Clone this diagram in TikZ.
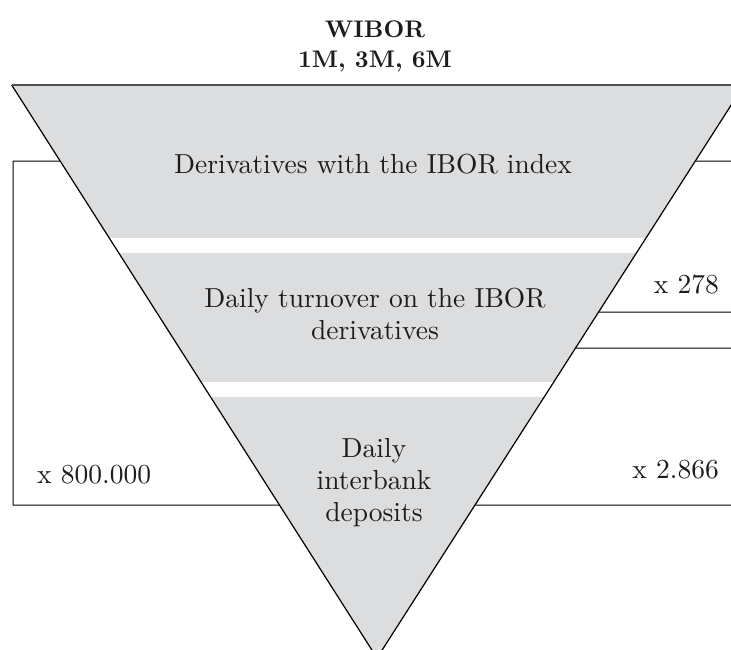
\documentclass[tikz,border=0pt]{standalone}
\usepackage{fontspec}
\newfontfamily\bodyfont{lmroman10-regular.otf}
\newfontfamily\boldfont{lmroman10-bold.otf}
\definecolor{bandgray}{RGB}{220,221,223}
\definecolor{inkc}{RGB}{28,28,28}
\definecolor{topc}{RGB}{80,80,80}
\begin{document}
\begin{tikzpicture}[x=1pt,y=-1pt,
  body/.style={font=\bodyfont\fontsize{27.5}{32}\selectfont, text=inkc, inner sep=0pt},
  ttlstyle/.style={font=\boldfont\fontsize{24}{30}\selectfont, text=inkc, inner sep=0pt, align=center, anchor=north},
  sideline/.style={draw=black, line width=1.2pt},
  topedge/.style={draw=topc, line width=1.6pt},
  link/.style={draw=black, line width=1pt}]
\useasboundingbox (0,0) rectangle (731,649);
\clip (0,0) rectangle (731,649);
% triangle corners
\coordinate (TL) at (11.7,85);
\coordinate (TR) at (744,85);
\coordinate (AP) at (377,658);
% bands
\begin{scope}
  \clip (TL) -- (TR) -- (AP) -- cycle;
  \fill[bandgray] (0,85) rectangle (760,238);
  \fill[bandgray] (0,253) rectangle (760,382);
  \fill[bandgray] (0,397) rectangle (760,670);
\end{scope}
% helper horizontals
\coordinate (h1a) at (0,161);   \coordinate (h1b) at (740,161);
\coordinate (h2a) at (0,312);   \coordinate (h2b) at (740,312);
\coordinate (h3a) at (0,348);   \coordinate (h3b) at (740,348);
\coordinate (h4a) at (0,505);   \coordinate (h4b) at (740,505);
% points on the sides
\coordinate (L1) at (intersection of TL--AP and h1a--h1b);
\coordinate (L4) at (intersection of TL--AP and h4a--h4b);
\coordinate (R1) at (intersection of TR--AP and h1a--h1b);
\coordinate (R2) at (intersection of TR--AP and h2a--h2b);
\coordinate (R3) at (intersection of TR--AP and h3a--h3b);
\coordinate (R4) at (intersection of TR--AP and h4a--h4b);
% bracket corners and right ends
\coordinate (BL1) at (13,161);
\coordinate (BL4) at (13,505);
\coordinate (E1) at (735,161);
\coordinate (E2) at (735,312);
\coordinate (E3) at (735,348);
\coordinate (E4) at (735,505);
% connectors
\draw[link] (L1) -- (BL1) -- (BL4) -- (L4);
\draw[link] (R1) -- (E1);
\draw[link] (R2) -- (E2);
\draw[link] (R3) -- (E3);
\draw[link] (R4) -- (E4);
% triangle outline
\draw[sideline] (TL) -- (AP) -- (TR);
\draw[topedge] (TL) -- (TR);
% texts
\node[ttlstyle] (ttl) at (375,20.5) {WIBOR\\1M, 3M, 6M};
\node[body, anchor=base] (d1) at (373,173) {Derivatives with the IBOR index};
\node[body, align=center, anchor=north] (d2) at (375,288) {Daily turnover on the IBOR\\derivatives};
\node[body, align=center, anchor=north] (d3) at (374,438) {Daily\\interbank\\deposits};
\node[body, anchor=base west] (n800) at (37,483) {x 800.000};
\node[body, anchor=base east] (n278) at (719,293) {x 278};
\node[body, anchor=base east] (n2866) at (719,478) {x 2.866};
\end{tikzpicture}
\end{document}
